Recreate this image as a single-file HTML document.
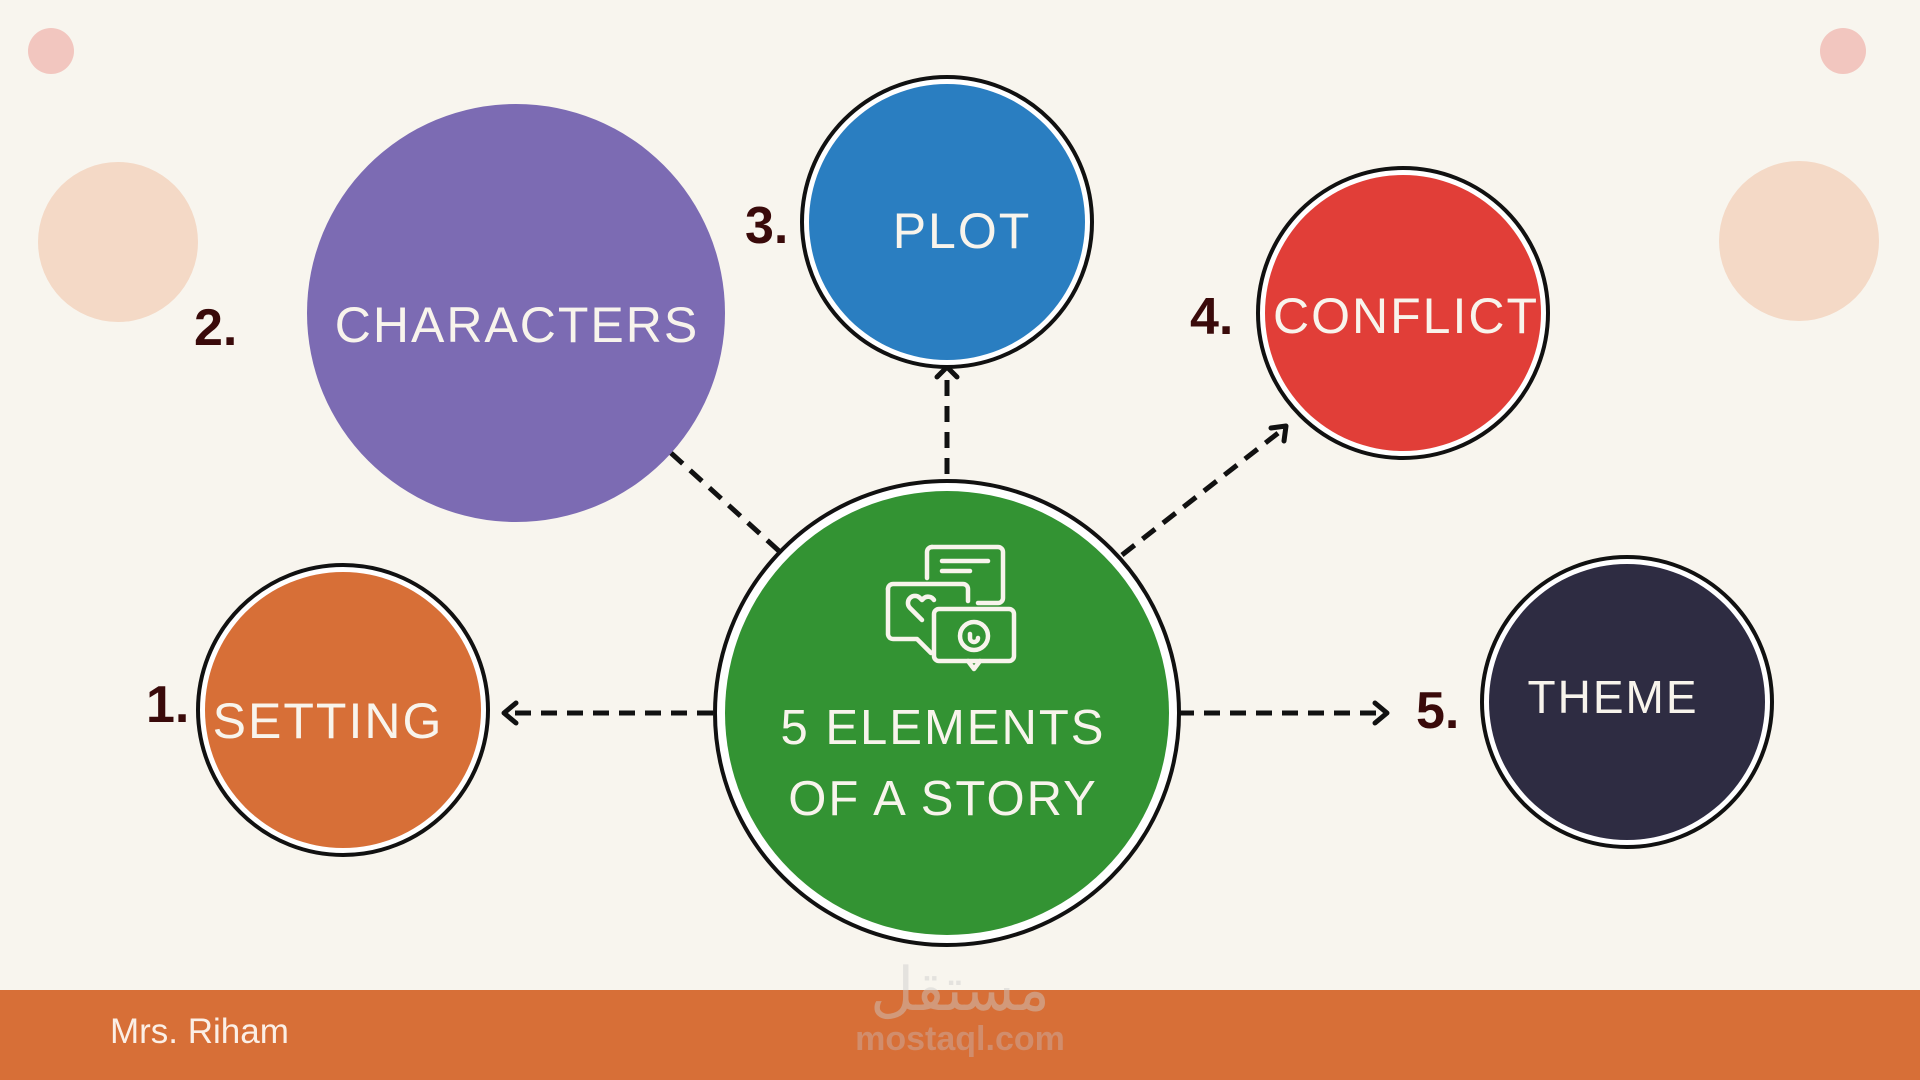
<!DOCTYPE html>
<html><head><meta charset="utf-8"><style>
html,body{margin:0;padding:0;width:1920px;height:1080px;overflow:hidden;background:#f8f5ee;}
svg{display:block}
text{font-family:"Liberation Sans",sans-serif;}
</style></head><body>
<svg width="1920" height="1080" viewBox="0 0 1920 1080">
<rect width="1920" height="1080" fill="#f8f5ee"/>
<circle cx="51" cy="51" r="23" fill="#f2c6bf"/>
<circle cx="1843" cy="51" r="23" fill="#f2c6bf"/>
<circle cx="118" cy="242" r="80" fill="#f4d9c6"/>
<circle cx="1799" cy="241" r="80" fill="#f4d9c6"/>

<g stroke="#111" stroke-width="5" fill="none" stroke-dasharray="16,10">
<line x1="713" y1="713" x2="508" y2="713"/>
<line x1="1178" y1="713" x2="1382" y2="713"/>
<line x1="947" y1="474" x2="947" y2="372"/>
<line x1="1122" y1="555" x2="1282" y2="430"/>
<line x1="779" y1="551" x2="671" y2="453"/>
</g>
<g stroke="#111" stroke-width="5" fill="none" stroke-linecap="round" stroke-linejoin="round">
<polyline points="516,703 504,713 516,723"/>
<polyline points="1375,703 1387,713 1375,723"/>
<polyline points="937,377 947,367 957,377"/>
<polyline points="1271,428 1286,426 1284,441"/>
</g>

<circle cx="516" cy="313" r="209" fill="#7c6bb3"/>
<circle cx="343" cy="710" r="145" fill="#fff" stroke="#111" stroke-width="4"/>
<circle cx="343" cy="710" r="138" fill="#d76f37"/>
<circle cx="947" cy="222" r="145" fill="#fff" stroke="#111" stroke-width="4"/>
<circle cx="947" cy="222" r="138" fill="#2a7ec1"/>
<circle cx="1403" cy="313" r="145" fill="#fff" stroke="#111" stroke-width="4"/>
<circle cx="1403" cy="313" r="138" fill="#e13e38"/>
<circle cx="1627" cy="702" r="145" fill="#fff" stroke="#111" stroke-width="4"/>
<circle cx="1627" cy="702" r="138" fill="#2e2c42"/>
<circle cx="947" cy="713" r="232" fill="#fff" stroke="#111" stroke-width="4"/>
<circle cx="947" cy="713" r="222" fill="#339333"/>

<g stroke="#f8f4ec" stroke-width="4.5" fill="none" stroke-linecap="round" stroke-linejoin="round" transform="translate(920,547)">
<path d="M12,0 h66 a5,5 0 0 1 5,5 v46 a5,5 0 0 1 -5,5 h-20"/>
<path d="M12,0 a5,5 0 0 0 -5,5 v26"/>
<line x1="22" y1="14" x2="68" y2="14"/><line x1="22" y1="24" x2="50" y2="24"/>
<path d="M-32,42 v45 a5,5 0 0 0 5,5 h24 l14,14"/>
<path d="M-32,42 a5,5 0 0 1 5,-5 h70 a5,5 0 0 1 5,5 v12"/>
<path d="M2,73 l-12,-12 a7,7 0 0 1 10,-10 l2,2 l2,-2 a7,7 0 0 1 10,2" />
<rect x="14" y="62" width="80" height="52" rx="5"/>
<path d="M48,114 l6,8 l6,-8"/>
<circle cx="54" cy="89" r="14"/>
<path d="M50,87 v4 a4,4 0 0 0 8,0"/>
</g>

<g fill="#f8f4ec" font-size="50" text-anchor="middle" letter-spacing="2">
<text x="517" y="342">CHARACTERS</text>
<text x="328" y="738">SETTING</text>
<text x="962" y="248">PLOT</text>
<text x="1406" y="333">CONFLICT</text>
<text x="1613" y="713" font-size="46">THEME</text>
<text x="943" y="744" font-size="49">5 ELEMENTS</text>
<text x="943" y="815" font-size="49">OF A STORY</text>
</g>
<g fill="#3a0a0a" font-size="52" font-weight="bold">
<text x="146" y="722">1.</text>
<text x="194" y="345">2.</text>
<text x="745" y="243">3.</text>
<text x="1190" y="334">4.</text>
<text x="1416" y="728">5.</text>
</g>

<rect x="0" y="990" width="1920" height="90" fill="#d76f37"/>
<text x="110" y="1043" font-size="35" fill="#fbefe6">Mrs. Riham</text>
<text x="960" y="1050" font-size="34" fill="#d0957a" text-anchor="middle" font-weight="bold" opacity="0.8">mostaql.com</text>
<text x="960" y="1010" font-size="60" fill="#ccc" text-anchor="middle" opacity="0.45" font-family="'DejaVu Sans',sans-serif">مستقل</text>
</svg>
</body></html>
